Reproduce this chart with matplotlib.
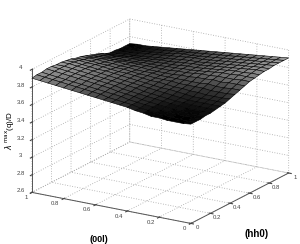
import numpy as np
import matplotlib
matplotlib.use("Agg")
import matplotlib.pyplot as plt

l_values = [0.00, 0.05, 0.10, 0.15, 0.20, 0.25, 0.30, 0.35, 0.40, 0.45, 0.50,
            0.55, 0.60, 0.65, 0.70, 0.75, 0.80, 0.85, 0.90, 0.95, 1.00]
h_values = list(l_values)
z_ticks = [2.6, 2.8, 3.0, 3.2, 3.4, 3.6, 3.8, 4.0]
z_labels = ['2.6', '2.8', '3', '3.2', '3.4', '3.6', '3.8', '4']
hl_ticks = [0, 0.2, 0.4, 0.6, 0.8, 1]
hl_labels = ['0', '0.2', '0.4', '0.6', '0.8', '1']

lambda_max = [
[373,373,373,374,374,375,376,377,379,381,383,385,387,388,389,390,390,391,391,391,391],
[372,372,373,373,374,375,376,377,378,380,383,385,387,388,389,390,390,390,390,390,390],
[372,372,373,373,374,375,376,377,378,380,382,385,386,388,388,389,389,389,389,389,389],
[372,373,373,374,374,375,376,377,378,380,382,384,386,387,388,388,388,388,388,388,388],
[373,373,374,374,375,376,376,377,379,381,383,385,386,387,387,387,387,387,387,387,387],
[373,374,374,375,376,376,377,378,379,381,382,384,385,386,386,386,386,386,386,386,386],
[375,375,376,376,377,377,378,379,380,381,382,384,385,385,385,385,385,385,385,385,385],
[376,376,377,377,378,378,379,380,380,381,382,383,384,384,384,384,384,384,384,384,384],
[378,378,378,378,379,379,380,380,381,382,382,383,383,383,383,383,383,383,383,383,383],
[379,379,379,380,380,380,381,381,382,382,382,382,383,383,383,383,382,382,382,382,382],
[380,380,381,381,381,382,382,382,382,382,382,382,382,382,382,382,382,382,381,381,381],
[381,381,382,382,382,383,383,383,383,383,383,382,382,382,381,381,381,381,380,380,380],
[382,383,383,384,384,384,384,384,384,383,383,382,382,381,381,380,380,380,380,379,379],
[383,384,384,385,385,385,385,385,385,384,383,383,382,381,380,380,379,379,379,378,378],
[384,385,385,386,386,386,386,386,385,385,384,383,382,381,380,379,378,378,377,377,377],
[385,386,386,387,387,387,387,387,386,385,384,383,382,380,379,378,377,377,376,376,376],
[386,387,387,388,388,388,388,387,387,386,385,384,382,380,379,377,376,376,375,375,375],
[387,388,388,389,389,389,389,388,388,386,385,384,382,380,379,377,375,375,374,374,374],
[388,389,389,390,390,390,390,389,388,387,386,384,382,380,378,376,375,374,373,373,373],
[389,390,390,391,391,391,391,390,389,387,386,384,382,380,378,375,374,373,373,372,373],
[390,391,391,392,392,391,391,390,389,387,386,384,382,380,378,375,373,373,372,372,372],
]

plt.rcParams['font.family'] = ['Liberation Sans', 'DejaVu Sans']
fig = plt.figure(figsize=(3.0, 2.44), dpi=100)
ax = fig.add_axes([7/300, -2.5/244, 1, 1], projection='3d', proj_type='ortho')
ax.view_init(elev=18.5, azim=-148.4)
ax.set_box_aspect((1, 1, 0.695), zoom=1.17)

H, L = np.meshgrid(h_values, l_values)
Z = np.array(lambda_max) / 100.0
norm = plt.Normalize(Z.min(), Z.max() + 0.12)
colors = plt.cm.gray(norm(Z))
surf = ax.plot_surface(H, L, Z, rstride=1, cstride=1, facecolors=colors, shade=False,
                       edgecolor='black', linewidth=0.4, antialiased=True)
surf.set_clip_on(False)

ax.set_xlim(0, 1, view_margin=0)
ax.set_ylim(0, 1, view_margin=0)
ax.set_zlim(2.6, 4, view_margin=0)
ax.set_xticks(hl_ticks, hl_labels)
ax.set_yticks(hl_ticks, hl_labels)
ax.set_zticks(z_ticks, z_labels)
ax.tick_params(labelsize=4.3, colors='#444444', pad=-4, length=2, width=0.4)
for lab in ax.get_zticklabels() + ax.get_xticklabels():
    lab.set_va('bottom')
for lab in ax.get_yticklabels():
    lab.set_va('bottom')
    lab.set_ha('right')

for axis in (ax.xaxis, ax.yaxis, ax.zaxis):
    axis.set_pane_color((1, 1, 1, 0))
    axis.pane.set_edgecolor((0, 0, 0, 0))
    axis.line.set_color('#555555')
    axis.line.set_linewidth(0.7)
    axis._axinfo['grid'].update(color='#a5a5a5', linestyle=(0, (1, 2)), linewidth=0.6)
ax.zaxis.set_ticks_position('upper')
ax.zaxis.set_label_position('upper')

fig.text(99/300, 1-239/244, '(00l)', fontsize=6.5, fontweight='bold', ha='center', va='center')
fig.text(257/300, 1-234/244, '(hh0)', fontsize=7, fontweight='bold', ha='center', va='center')
fig.text(9.5/300, 1-130/244, r'$\lambda$ $^{\mathrm{max}}$(q)/D', fontsize=5.8, rotation=90,
         ha='center', va='center')
fig.savefig('out.png', dpi=100)
